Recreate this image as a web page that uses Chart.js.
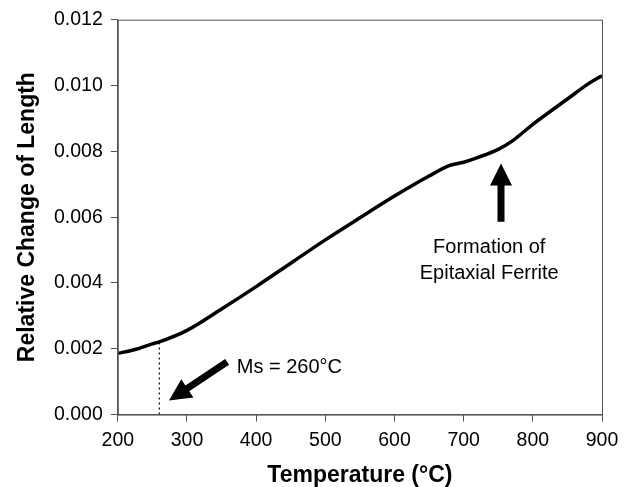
<!DOCTYPE html>
<html>
<head>
<meta charset="utf-8">
<script src="https://cdn.jsdelivr.net/npm/chart.js@4"></script>
<style>
  html, body { margin: 0; padding: 0; background: #fff; }
  #wrap { width: 632px; height: 487px; }
</style>
</head>
<body>
<div id="wrap"><canvas id="myChart" width="632" height="487"></canvas></div>
<script>
// Curve
const temperature = [200, 225, 250, 260, 300, 350, 400, 450, 500, 550, 600, 650, 680, 700, 720, 750, 770, 800, 850, 880, 900]
const lengthChange = [0.00186, 0.00198, 0.00215, 0.00221, 0.00256, 0.00321, 0.00389, 0.0046, 0.00531, 0.00598, 0.00664, 0.00725, 0.00757, 0.00767, 0.00781, 0.00806, 0.00831, 0.00882, 0.00959, 0.01005, 0.0103]

// Ms marker
const msTemp = [260, 260]
const msLevel = [0, 0.00221]

// Annotations (data units)
const arrows = [
    { from: [358, 0.0016], to: [274, 0.00043] },
    { from: [754, 0.00586], to: [754, 0.00763] }
]
const notes = [
    { text: 'Ms = 260°C', at: [372, 0.00144], align: 'left' },
    { text: 'Formation of', at: [737, 0.00507], align: 'center' },
    { text: 'Epitaxial Ferrite', at: [737, 0.0043], align: 'center' }
]

const FONT = '"Liberation Sans", Arial, sans-serif'

const annotate = {
    id: 'annotate',
    afterDatasetsDraw(chart) {
        const ctx = chart.ctx
        const xs = chart.scales.x
        const ys = chart.scales.y
        const area = chart.chartArea

        // frame
        ctx.save()
        ctx.strokeStyle = '#555'
        ctx.lineWidth = 1
        ctx.strokeRect(area.left + 0.5, area.top + 0.5, area.right - area.left, area.bottom - area.top)

        // arrows
        ctx.fillStyle = '#000'
        for (const a of arrows) {
            const x1 = xs.getPixelForValue(a.from[0]), y1 = ys.getPixelForValue(a.from[1])
            const x2 = xs.getPixelForValue(a.to[0]), y2 = ys.getPixelForValue(a.to[1])
            const ang = Math.atan2(y2 - y1, x2 - x1)
            const len = Math.hypot(x2 - x1, y2 - y1)
            const head = 22, hw = 11, sw = 3.5
            ctx.save()
            ctx.translate(x1, y1)
            ctx.rotate(ang)
            ctx.beginPath()
            ctx.moveTo(0, -sw)
            ctx.lineTo(len - head, -sw)
            ctx.lineTo(len - head, -hw)
            ctx.lineTo(len, 0)
            ctx.lineTo(len - head, hw)
            ctx.lineTo(len - head, sw)
            ctx.lineTo(0, sw)
            ctx.closePath()
            ctx.fill()
            ctx.restore()
        }

        // notes
        ctx.font = '20px ' + FONT
        ctx.textBaseline = 'middle'
        for (const n of notes) {
            ctx.textAlign = n.align
            ctx.fillText(n.text, xs.getPixelForValue(n.at[0]), ys.getPixelForValue(n.at[1]))
        }
        ctx.restore()
    }
}

const ctx = document.getElementById('myChart').getContext('2d')
const myChart = new Chart(ctx, {
    type: 'line',
    data: {
        datasets: [{
            data: temperature.map((t, i) => ({ x: t, y: lengthChange[i] })),
            borderColor: '#000',
            borderWidth: 3.5,
            pointRadius: 0,
            tension: 0.4,
            cubicInterpolationMode: 'monotone'
        }, {
            data: msTemp.map((t, i) => ({ x: t, y: msLevel[i] })),
            borderColor: '#000',
            borderWidth: 1.2,
            borderDash: [2, 3],
            pointRadius: 0
        }]
    },
    options: {
        responsive: false,
        animation: false,
        layout: { padding: { top: 19, right: 30, left: 12, bottom: 0 } },
        plugins: { legend: { display: false }, tooltip: { enabled: false } },
        scales: {
            x: {
                type: 'linear',
                min: 200,
                max: 900,
                ticks: { stepSize: 100, color: '#000', font: { family: FONT, size: 19.5 }, padding: 7 },
                grid: { drawOnChartArea: false, tickLength: 7, color: '#555' },
                border: { color: '#555' },
                title: { display: true, text: 'Temperature (°C)', color: '#000', font: { family: FONT, size: 23, weight: 'bold', lineHeight: 1 }, padding: { top: 5, bottom: 0 } }
            },
            y: {
                min: 0,
                max: 0.012,
                ticks: { stepSize: 0.002, color: '#000', font: { family: FONT, size: 19.5 }, padding: 8, callback: v => v.toFixed(3) },
                grid: { drawOnChartArea: false, tickLength: 7, color: '#555' },
                border: { color: '#555' },
                title: { display: true, text: 'Relative Change of Length', color: '#000', font: { family: FONT, size: 23, weight: 'bold', lineHeight: 1 }, padding: { top: 4, bottom: 7 } }
            }
        }
    },
    plugins: [annotate]
})
</script>
</body>
</html>
